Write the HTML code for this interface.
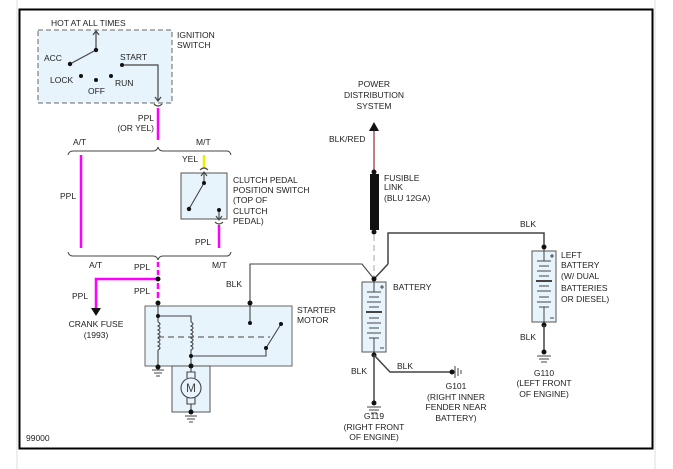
<!DOCTYPE html>
<html><head><style>
body{margin:0;background:#fff;}
svg{display:block;font-family:"Liberation Sans",Arial,sans-serif;font-size:8.5px;fill:#222;}
</style></head><body>
<svg width="673" height="469" viewBox="0 0 673 469" xmlns="http://www.w3.org/2000/svg">
<line x1="17" y1="0" x2="17" y2="469" stroke="#ddd" stroke-width="1"/>
<line x1="655" y1="0" x2="655" y2="469" stroke="#ddd" stroke-width="1"/>
<rect x="19.5" y="9.5" width="633" height="439" fill="#fff" stroke="#000" stroke-width="2"/>

<!-- ignition switch -->
<rect x="38" y="30" width="134" height="73" fill="#e8f4fc" stroke="#666" stroke-dasharray="5,3"/>
<g stroke="#444" fill="none" stroke-width="1.2">
<path d="M96 50V32M93 35L96 31L99 35"/>
<path d="M96 50L70 64"/>
<path d="M122 65H158V101M155 97L158 101L161 97"/>
<path d="M154 104Q158 108 162 104"/>
</g>
<g fill="#111"><circle cx="96" cy="50" r="2.2"/><circle cx="70" cy="64" r="2.2"/><circle cx="81" cy="76" r="2"/><circle cx="96" cy="80" r="2"/><circle cx="111" cy="76" r="2"/><circle cx="122" cy="65" r="2"/></g>
<line x1="158" y1="108" x2="158" y2="140" stroke="#f0f" stroke-width="2.5"/>
<!-- braces -->
<path d="M68 155Q69 151 73 151H153Q157 151 158 147Q159 151 163 151H227Q230 151 231 155" fill="none" stroke="#444"/>
<path d="M68 252Q69 256 73 256H153Q157 256 158 260Q159 256 163 256H227Q230 256 231 252" fill="none" stroke="#444"/>
<line x1="81" y1="155" x2="81" y2="248" stroke="#f0f" stroke-width="2.5"/>
<line x1="204" y1="155" x2="204" y2="168" stroke="#ee0" stroke-width="2.5"/>
<!-- clutch switch -->
<rect x="181" y="173" width="46" height="46" fill="#e8f4fc" stroke="#555"/>
<g stroke="#444" fill="none" stroke-width="1.1">
<path d="M200 170Q204 166 208 170"/><path d="M204 183V173M201 176L204 172L207 176"/>
<path d="M204 183L189 209"/>
<path d="M219 210V219M216 216L219 220L222 216"/><path d="M215 222Q219 226 223 222"/>
</g>
<g fill="#111"><circle cx="204" cy="183" r="2"/><circle cx="189" cy="209" r="2.2"/><circle cx="219" cy="210" r="2"/></g>
<line x1="219" y1="225" x2="219" y2="248" stroke="#f0f" stroke-width="2.5"/>
<!-- ppl lower -->
<line x1="158" y1="262" x2="158" y2="276" stroke="#f0f" stroke-width="2.5" stroke-dasharray="5,3"/>
<path d="M158 279H96V308" fill="none" stroke="#f0f" stroke-width="2.5"/>
<path d="M91 308H101L96 316Z" fill="#111"/>
<line x1="158" y1="283" x2="158" y2="303" stroke="#f0f" stroke-width="2.5" stroke-dasharray="6,3"/>
<circle cx="158" cy="279" r="2.5" fill="#111"/>
<!-- starter -->
<rect x="145" y="306" width="147" height="60" fill="#e8f4fc" stroke="#666"/>
<rect x="172" y="366" width="38" height="46" fill="#e8f4fc" stroke="#555"/>
<g stroke="#444" fill="none" stroke-width="1.1">
<path d="M158 303V322M158 350V367"/>
<path d="M158 322q4 2 0 4q4 2 0 4q4 2 0 4q4 2 0 4q4 2 0 4q4 2 0 4q4 2 0 4"/>
<path d="M158 316H191V322"/>
<path d="M191 322q4 2 0 4q4 2 0 4q4 2 0 4q4 2 0 4q4 2 0 4q4 2 0 4q4 2 0 4V367"/>
<path d="M158 337H270" stroke-dasharray="6,4"/>
<path d="M191 356H266V348L281 324"/>
<path d="M250 323V264H362L374 279"/>
<circle cx="191" cy="388" r="10"/>
<path d="M187 378V372H195V378M187 398V404H195V404V398M191 372V367M191 404V412"/>
<path d="M152 370H164M154 373H162M156 376H160M185 416H197M187 419H195M189 422H193"/>
</g>
<text x="191" y="392" text-anchor="middle" font-size="12" fill="#444">M</text>
<g fill="#111"><circle cx="158" cy="303" r="2.5"/><circle cx="250" cy="303" r="2.5"/><circle cx="158" cy="316" r="2"/><circle cx="250" cy="323" r="2"/><circle cx="281" cy="324" r="2"/><circle cx="266" cy="348" r="2"/><circle cx="191" cy="356" r="2"/><circle cx="158" cy="367" r="2.5"/><circle cx="191" cy="366" r="2.5"/><circle cx="191" cy="412" r="2.5"/></g>
<!-- power dist -->
<line x1="374" y1="130" x2="374" y2="172" stroke="#a55" stroke-width="1.5"/>
<path d="M369 131H379L374 122Z" fill="#111"/>
<rect x="370" y="174" width="9" height="56" fill="#111"/>
<circle cx="374" cy="172" r="2.5" fill="#111"/>
<circle cx="374" cy="232" r="2.5" fill="#111"/>
<line x1="374" y1="235" x2="374" y2="277" stroke="#aaa" stroke-dasharray="6,4"/>
<path d="M388 264V233H544V247" fill="none" stroke="#444" stroke-width="1.5"/>
<path d="M374 279L388 264" stroke="#444" stroke-width="1.5"/>
<!-- batteries -->
<g stroke="#555" fill="#e8f4fc">
<rect x="362" y="282" width="24" height="70"/>
<rect x="532" y="251" width="24" height="71"/>
</g>
<g stroke="#444" stroke-width="1">
<path d="M374 279V292M367 292H381M369 297H379M367 302H381M369 307H379M367 312H381M369 318H379M367 323H381M369 328H379M367 333H381M369 338H379M374 338V355"/>
<path d="M366 312H382" stroke-width="2"/>
<path d="M544 247V261M537 261H551M539 266H549M537 271H551M539 276H549M537 281H551M539 286H549M537 291H551M539 297H549M537 302H551M539 307H549M544 307V325"/>
<path d="M536 281H552" stroke-width="2"/>
<path d="M380 287H384M382 285V289M380 348H384M550 256H554M552 254V258M550 318H554"/>
</g>
<g fill="#111"><circle cx="374" cy="279" r="2.5"/><circle cx="374" cy="355" r="2.5"/><circle cx="544" cy="247" r="2.5"/><circle cx="544" cy="325" r="2.5"/></g>
<g stroke="#444" stroke-width="1.5" fill="none">
<path d="M374 355V403M374 355L390 372H450"/>
<path d="M544 325V352"/>
</g>
<g stroke="#444" stroke-width="1">
<path d="M367 407H381M369 410H379M371 413H377M537 356H551M539 359H549M541 362H547"/>
<path d="M455 366V378M458 368V376M461 370V374"/>
</g>
<g fill="#111"><circle cx="374" cy="403" r="2.5"/><circle cx="544" cy="352" r="2.5"/><circle cx="452" cy="372" r="2.5"/></g>

<g fill="#222" stroke="none">
<text x="51" y="26">HOT AT ALL TIMES</text>
<text x="177" y="38">IGNITION</text><text x="177" y="48">SWITCH</text>
<text x="44" y="61">ACC</text><text x="120" y="60">START</text>
<text x="50" y="83">LOCK</text><text x="88" y="94">OFF</text><text x="115" y="86">RUN</text>
<text x="154" y="121" text-anchor="end">PPL</text><text x="154" y="131" text-anchor="end">(OR YEL)</text>
<text x="73" y="145">A/T</text><text x="196" y="145">M/T</text>
<text x="60" y="199">PPL</text><text x="182" y="162">YEL</text>
<text x="233" y="183">CLUTCH PEDAL</text><text x="233" y="193">POSITION SWITCH</text><text x="233" y="203">(TOP OF</text><text x="233" y="214">CLUTCH</text><text x="233" y="224">PEDAL)</text>
<text x="195" y="245">PPL</text>
<text x="89" y="268">A/T</text><text x="134" y="270">PPL</text><text x="212" y="268">M/T</text>
<text x="72" y="299">PPL</text><text x="134" y="294">PPL</text>
<text x="96" y="327" text-anchor="middle">CRANK FUSE</text><text x="96" y="338" text-anchor="middle">(1993)</text>
<text x="226" y="287">BLK</text>
<text x="297" y="313">STARTER</text><text x="297" y="323">MOTOR</text>
<text x="26" y="441">99000</text>
<text x="374" y="87" text-anchor="middle">POWER</text><text x="374" y="98" text-anchor="middle">DISTRIBUTION</text><text x="374" y="109" text-anchor="middle">SYSTEM</text>
<text x="329" y="142">BLK/RED</text>
<text x="384" y="181">FUSIBLE</text><text x="384" y="190">LINK</text><text x="384" y="201">(BLU 12GA)</text>
<text x="520" y="227">BLK</text>
<text x="393" y="290">BATTERY</text>
<text x="561" y="258">LEFT</text><text x="561" y="268">BATTERY</text><text x="561" y="279">(W/ DUAL</text><text x="561" y="291">BATTERIES</text><text x="561" y="302">OR DIESEL)</text>
<text x="520" y="340">BLK</text>
<text x="544" y="376" text-anchor="middle">G110</text><text x="544" y="386" text-anchor="middle">(LEFT FRONT</text><text x="544" y="397" text-anchor="middle">OF ENGINE)</text>
<text x="351" y="374">BLK</text><text x="397" y="369">BLK</text>
<text x="456" y="389" text-anchor="middle">G101</text><text x="456" y="400" text-anchor="middle">(RIGHT INNER</text><text x="456" y="410" text-anchor="middle">FENDER NEAR</text><text x="456" y="421" text-anchor="middle">BATTERY)</text>
<text x="374" y="419" text-anchor="middle">G119</text><text x="374" y="430" text-anchor="middle">(RIGHT FRONT</text><text x="374" y="440" text-anchor="middle">OF ENGINE)</text>
</g>
</svg>
</body></html>
